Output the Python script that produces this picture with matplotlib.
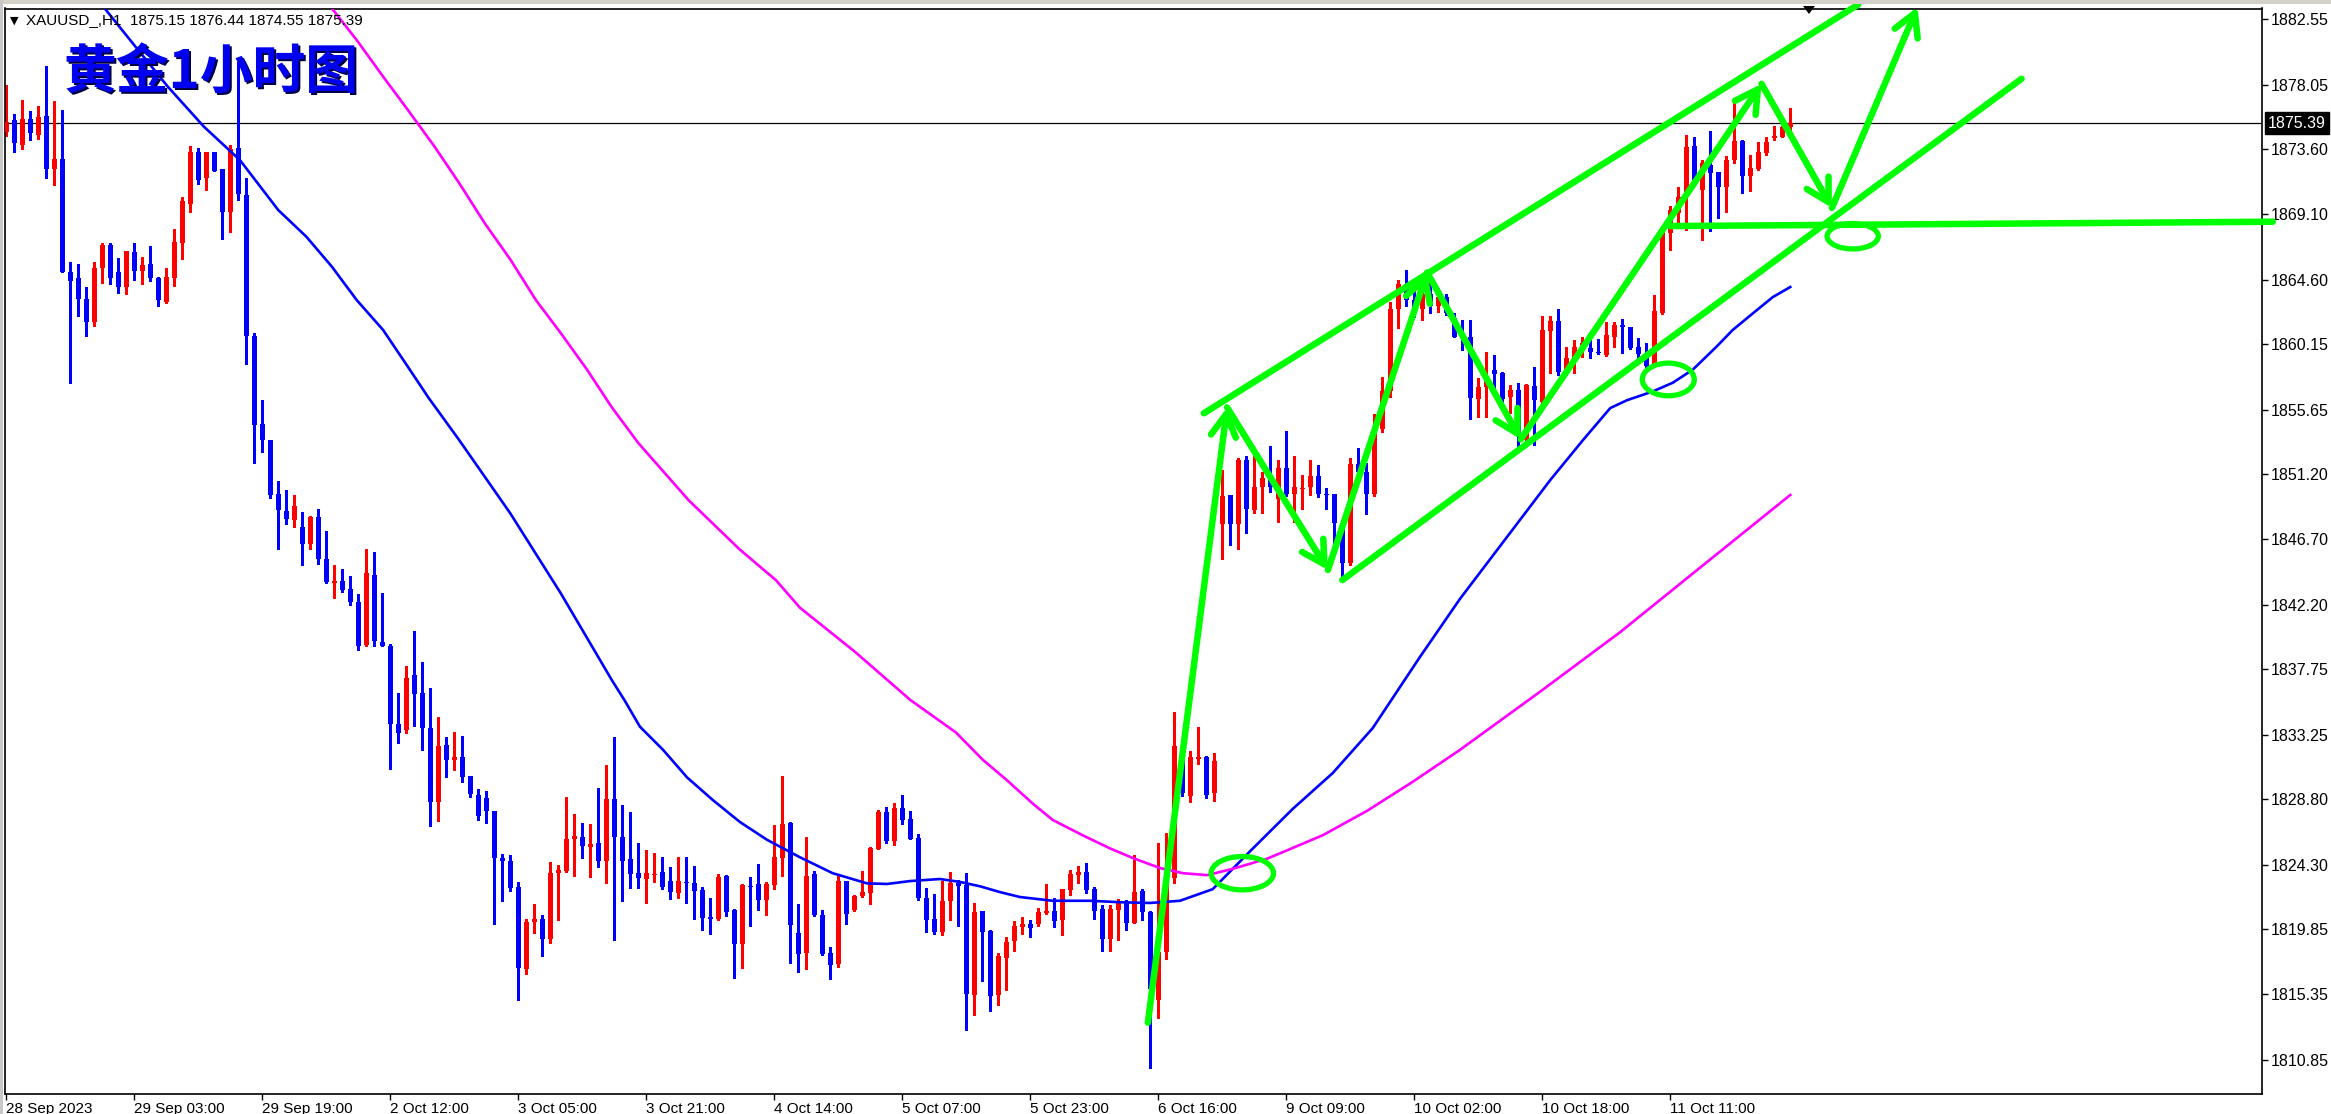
import matplotlib
matplotlib.use('Agg')
import matplotlib.pyplot as plt
from matplotlib import font_manager
from matplotlib.patches import Ellipse, Rectangle, Polygon
import matplotlib.transforms as mtrans

# ---------------- data ----------------
opens = [1874.8, 1875.6, 1873.9, 1875.7, 1874.6, 1875.9, 1872.2, 1872.9, 1865.1, 1864.7,
         1863.3, 1861.7, 1865.4, 1867.0, 1865.1, 1864.1, 1866.5, 1865.2, 1865.7, 1864.7,
         1863.1, 1864.75, 1867.1, 1869.85, 1873.4, 1871.6, 1873.4, 1872.2, 1869.3, 1873.7,
         1870.45, 1860.7, 1854.67, 1853.53, 1849.84, 1848.67, 1848.07, 1847.56, 1846.36, 1848.24,
         1845.33, 1843.73, 1843.84, 1843.3, 1842.38, 1839.41, 1844.24, 1839.64, 1839.36, 1834.01,
         1833.56, 1837.33, 1836.13, 1833.7, 1828.64, 1832.53, 1831.5, 1831.7, 1830.38, 1829.1,
         1828.87, 1827.96, 1824.76, 1824.53, 1822.73, 1817.12, 1820.36, 1820.55, 1819.19, 1823.72,
         1823.86, 1826.06, 1826.2, 1825.53, 1825.78, 1824.57, 1828.82, 1826.22, 1824.68, 1823.72,
         1823.33, 1823.6, 1823.79, 1823.17, 1822.34, 1823.1, 1823.03, 1822.55, 1820.68, 1820.55,
         1823.51, 1821.17, 1818.82, 1822.82, 1822.96, 1821.86, 1822.89, 1824.75, 1827.16, 1819.58,
         1818.2, 1823.65, 1820.82, 1818.2, 1817.46, 1823.16, 1821.16, 1822.13, 1822.33, 1825.37,
         1827.92, 1825.92, 1828.19, 1827.43, 1826.12, 1821.99, 1820.54, 1819.65, 1821.78, 1823.02,
         1822.89, 1815.3, 1821.09, 1819.71, 1815.3, 1817.85, 1819.03, 1819.99, 1820.2, 1820.2,
         1820.96, 1821.09, 1820.47, 1822.54, 1823.57, 1823.78, 1822.61, 1821.23, 1819.16, 1821.16,
         1821.64, 1820.27, 1822.47, 1821.02, 1814.95, 1818.3, 1823.4, 1832.3, 1829.0, 1831.6,
         1831.7, 1829.2, 1847.78, 1849.75, 1847.78, 1852.15, 1848.71, 1850.31, 1850.92, 1849.5,
         1851.6, 1849.84, 1850.15, 1850.31, 1851.07, 1849.84, 1849.84, 1847.84, 1845.07, 1851.9,
         1851.38, 1849.84, 1854.31, 1856.9, 1862.6, 1864.3, 1863.2, 1862.6, 1863.6, 1862.8,
         1863.44, 1861.94, 1860.7, 1860.64, 1856.36, 1857.24, 1858.38, 1858.2, 1856.5, 1857.0,
         1853.56, 1857.28, 1856.2, 1861.09, 1861.78, 1858.27, 1859.12, 1859.88, 1859.88, 1859.6,
         1859.42, 1860.68, 1861.49, 1861.32, 1859.95, 1859.53, 1858.66, 1862.29, 1867.8, 1869.18,
         1870.33, 1873.82, 1870.79, 1872.51, 1872.05, 1870.97, 1872.86, 1874.17, 1871.75, 1872.21,
         1873.36, 1874.35, 1874.46, 1875.15]
highs = [1878.0, 1876.0, 1877.0, 1876.2, 1876.6, 1879.3, 1876.9, 1876.3, 1865.8, 1865.7,
         1864.1, 1865.8, 1867.1, 1867.1, 1866.1, 1866.6, 1867.1, 1866.2, 1866.9, 1864.8,
         1865.4, 1868.1, 1870.3, 1873.8, 1873.7, 1873.4, 1873.4, 1872.2, 1873.9, 1879.6,
         1871.6, 1860.9, 1856.33, 1853.53, 1850.73, 1850.1, 1849.76, 1848.58, 1848.33, 1848.81,
         1847.27, 1844.93, 1844.67, 1844.18, 1842.93, 1846.04, 1845.84, 1843.01, 1839.47, 1836.13,
         1837.98, 1840.38, 1838.24, 1836.47, 1834.5, 1833.1, 1833.44, 1833.16, 1830.38, 1829.5,
         1829.36, 1827.98, 1825.01, 1824.96, 1823.07, 1820.55, 1821.58, 1820.82, 1824.47, 1824.27,
         1828.96, 1827.78, 1827.16, 1827.1, 1829.58, 1831.16, 1833.09, 1828.4, 1827.92, 1825.78,
         1825.3, 1825.1, 1824.82, 1824.13, 1824.82, 1824.82, 1824.2, 1822.75, 1822.0, 1823.65,
         1823.55, 1821.24, 1822.96, 1823.44, 1824.34, 1823.1, 1827.03, 1830.4, 1827.23, 1821.58,
         1826.2, 1823.86, 1821.16, 1818.61, 1823.57, 1823.16, 1822.2, 1823.85, 1825.5, 1828.05,
         1828.26, 1828.54, 1829.09, 1827.99, 1826.4, 1822.68, 1822.26, 1823.16, 1823.78, 1823.23,
         1823.71, 1821.64, 1821.09, 1819.78, 1818.2, 1819.3, 1820.4, 1820.68, 1820.47, 1821.3,
         1822.95, 1821.99, 1822.61, 1823.92, 1824.19, 1824.4, 1822.75, 1821.51, 1821.51, 1821.92,
         1821.85, 1824.95, 1822.61, 1821.1, 1825.8, 1826.5, 1834.8, 1832.6, 1832.1, 1833.8,
         1831.8, 1832.0, 1851.5, 1849.75, 1852.3, 1852.46, 1852.61, 1851.38, 1853.14, 1852.15,
         1854.21, 1852.46, 1851.17, 1852.15, 1851.84, 1850.24, 1849.84, 1847.84, 1852.3, 1853.0,
         1851.97, 1855.38, 1857.9, 1863.1, 1864.6, 1865.3, 1864.1, 1864.0, 1864.4, 1864.0,
         1863.6, 1862.3, 1861.83, 1861.83, 1857.81, 1859.65, 1859.42, 1858.27, 1857.35, 1857.46,
         1857.42, 1858.61, 1862.11, 1862.11, 1862.56, 1859.99, 1860.45, 1860.64, 1860.45, 1860.5,
         1861.72, 1861.72, 1861.88, 1861.37, 1860.57, 1860.22, 1863.55, 1867.92, 1869.69, 1870.97,
         1874.58, 1874.46, 1872.86, 1874.88, 1872.05, 1873.13, 1877.1, 1874.24, 1873.2, 1874.12,
         1874.46, 1875.2, 1875.2, 1876.44]
lows = [1874.5, 1873.4, 1873.6, 1874.2, 1874.3, 1871.6, 1871.1, 1865.1, 1857.5, 1862.1,
        1860.7, 1861.4, 1864.4, 1864.3, 1863.7, 1863.6, 1864.6, 1864.3, 1864.5, 1862.8,
        1863.0, 1864.2, 1866.0, 1869.3, 1871.2, 1870.8, 1872.1, 1867.4, 1867.9, 1870.1,
        1858.8, 1852.0, 1852.73, 1849.53, 1846.07, 1847.78, 1847.53, 1844.96, 1846.01, 1844.98,
        1843.73, 1842.7, 1843.07, 1842.21, 1839.1, 1839.33, 1839.33, 1839.36, 1830.9, 1832.7,
        1833.33, 1833.87, 1832.16, 1826.98, 1827.33, 1830.3, 1830.78, 1830.01, 1828.98, 1827.36,
        1827.18, 1820.21, 1821.81, 1822.5, 1814.96, 1816.76, 1819.6, 1818.0, 1818.92, 1820.48,
        1823.79, 1823.51, 1824.75, 1823.46, 1824.15, 1823.05, 1819.12, 1821.79, 1822.71, 1822.71,
        1821.67, 1823.12, 1822.64, 1821.93, 1822.02, 1821.65, 1820.55, 1819.79, 1819.51, 1820.5,
        1820.75, 1816.48, 1817.17, 1820.06, 1821.17, 1820.82, 1822.62, 1823.51, 1817.51, 1816.89,
        1817.1, 1820.75, 1818.06, 1816.41, 1817.26, 1820.2, 1821.09, 1822.06, 1821.58, 1825.37,
        1825.78, 1825.64, 1827.09, 1826.06, 1821.85, 1819.65, 1819.51, 1819.44, 1820.47, 1820.06,
        1812.89, 1813.93, 1816.27, 1814.2, 1814.62, 1815.65, 1818.34, 1819.51, 1819.3, 1820.06,
        1820.89, 1819.99, 1819.44, 1822.2, 1823.02, 1822.33, 1820.54, 1818.34, 1818.34, 1819.09,
        1819.78, 1820.27, 1820.47, 1810.3, 1813.7, 1817.8, 1823.0, 1829.0, 1828.6, 1831.2,
        1828.9, 1828.7, 1845.38, 1846.3, 1846.06, 1847.17, 1848.52, 1848.52, 1850.0, 1847.9,
        1849.69, 1847.9, 1848.77, 1849.75, 1849.63, 1848.83, 1846.15, 1844.15, 1844.92, 1851.0,
        1848.46, 1849.69, 1854.1, 1856.5, 1861.3, 1862.8, 1862.0, 1861.8, 1862.3, 1862.4,
        1862.2, 1860.64, 1859.76, 1854.98, 1855.12, 1855.17, 1857.0, 1855.86, 1855.4, 1853.1,
        1853.44, 1853.21, 1856.09, 1858.2, 1858.04, 1858.04, 1858.2, 1859.3, 1859.19, 1859.49,
        1859.35, 1859.99, 1859.58, 1859.81, 1859.19, 1858.61, 1858.6, 1862.24, 1866.65, 1868.26,
        1868.03, 1871.25, 1867.34, 1867.99, 1868.84, 1869.3, 1872.67, 1870.61, 1870.74, 1872.17,
        1873.2, 1874.24, 1874.42, 1874.55]
closes = [1875.5, 1874.0, 1875.7, 1874.7, 1875.8, 1872.2, 1872.9, 1865.1, 1864.5, 1863.3,
          1861.7, 1865.4, 1867.0, 1864.7, 1864.1, 1866.6, 1865.2, 1865.6, 1864.7, 1863.2,
          1864.8, 1867.2, 1870.0, 1873.4, 1871.5, 1873.4, 1872.1, 1869.3, 1873.6, 1870.5,
          1860.7, 1854.56, 1853.53, 1849.76, 1848.7, 1848.13, 1849.01, 1846.36, 1848.24, 1845.33,
          1843.78, 1843.81, 1843.24, 1842.41, 1839.38, 1844.38, 1839.67, 1839.36, 1834.01, 1833.36,
          1837.16, 1836.07, 1833.7, 1828.64, 1832.47, 1831.5, 1831.7, 1830.36, 1829.13, 1827.67,
          1827.96, 1824.78, 1824.56, 1822.7, 1817.19, 1820.36, 1820.55, 1819.19, 1823.72, 1823.92,
          1826.06, 1826.27, 1825.6, 1825.72, 1824.57, 1828.82, 1826.22, 1824.57, 1823.67, 1823.4,
          1823.72, 1823.67, 1822.75, 1822.43, 1823.17, 1823.03, 1822.48, 1820.62, 1820.55, 1823.44,
          1821.03, 1818.82, 1822.89, 1822.75, 1821.86, 1822.96, 1824.82, 1827.1, 1820.13, 1818.13,
          1823.51, 1820.82, 1818.13, 1817.39, 1823.16, 1820.89, 1822.13, 1822.4, 1825.44, 1827.92,
          1825.92, 1828.19, 1827.36, 1826.06, 1821.99, 1820.47, 1819.65, 1821.78, 1823.02, 1822.82,
          1815.37, 1821.02, 1819.65, 1815.24, 1817.99, 1818.96, 1820.06, 1820.2, 1819.92, 1821.02,
          1821.09, 1820.4, 1822.61, 1823.64, 1823.78, 1822.54, 1821.09, 1819.16, 1821.23, 1821.64,
          1820.27, 1822.4, 1821.02, 1815.69, 1818.3, 1823.4, 1832.5, 1829.2, 1831.7, 1831.7,
          1829.1, 1831.4, 1849.69, 1847.78, 1852.21, 1848.83, 1850.31, 1850.92, 1850.31, 1851.6,
          1849.84, 1850.31, 1850.24, 1851.07, 1849.84, 1849.75, 1847.84, 1845.07, 1851.9, 1851.38,
          1849.84, 1854.31, 1856.92, 1862.6, 1864.3, 1863.2, 1862.6, 1863.6, 1862.8, 1863.4,
          1862.29, 1860.64, 1860.6, 1856.43, 1857.24, 1857.69, 1858.11, 1856.36, 1857.0, 1854.02,
          1857.35, 1856.32, 1861.14, 1861.78, 1858.27, 1859.19, 1859.99, 1860.22, 1859.65, 1859.55,
          1860.8, 1861.49, 1861.32, 1859.88, 1859.49, 1858.66, 1862.47, 1867.92, 1869.41, 1870.33,
          1873.78, 1871.48, 1872.63, 1871.98, 1870.97, 1872.86, 1874.17, 1871.75, 1872.28, 1873.43,
          1874.12, 1874.51, 1875.11, 1875.39]

time_labels = ['28 Sep 2023', '29 Sep 03:00', '29 Sep 19:00', '2 Oct 12:00', '3 Oct 05:00',
               '3 Oct 21:00', '4 Oct 14:00', '5 Oct 07:00', '5 Oct 23:00', '6 Oct 16:00',
               '9 Oct 09:00', '10 Oct 02:00', '10 Oct 18:00', '11 Oct 11:00']
time_label_bars = [0, 16, 32, 48, 64, 80, 96, 112, 128, 144, 160, 176, 192, 208]

price_labels = ['1882.55', '1878.05', '1873.60', '1869.10', '1864.60', '1860.15', '1855.65',
                '1851.20', '1846.70', '1842.20', '1837.75', '1833.25', '1828.80', '1824.30',
                '1819.85', '1815.35', '1810.85']

ma_blue_bar = [12.3, 15.8, 20.2, 24.7, 29.2, 34.0, 37.5, 40.7, 43.8, 47.1, 50.2, 52.8, 56.6, 63.0,
               69.3, 75.7, 77.3, 79.2, 82.1, 85.1, 88.3, 91.7, 95.1, 99.2, 103.3, 107.6, 110.1,
               113.0, 116.7, 119.2, 121.7, 124.2, 126.7, 130.8, 135.5, 139.2, 143.0, 146.7, 150.8,
               155.5, 160.8, 165.8, 170.8, 176.7, 181.7, 193.0, 197.1, 200.5, 202.6, 205.8, 208.3,
               210.8, 213.8, 215.8, 218.8, 220.8, 223.0]
ma_blue_val = [1883.3, 1880.9, 1877.9, 1875.15, 1872.85, 1869.4, 1867.57, 1865.5, 1863.2, 1861.14,
               1858.6, 1856.45, 1853.56, 1848.5, 1843.0, 1837.0, 1835.6, 1833.8, 1832.2, 1830.3,
               1828.75, 1827.23, 1826.0, 1824.8, 1823.7, 1823.0, 1822.96, 1823.16, 1823.3, 1823.1,
               1822.8, 1822.4, 1822.06, 1821.8, 1821.8, 1821.7, 1821.65, 1821.8, 1822.6, 1825.23,
               1828.13, 1830.6, 1833.7, 1838.6, 1842.6, 1850.8, 1853.56, 1855.76, 1856.3, 1856.9,
               1857.5, 1858.4, 1860.0, 1861.14, 1862.5, 1863.4, 1864.1]

ma_magenta_bar = [40.7, 43.8, 47.1, 50.2, 53.5, 56.6, 59.8, 63.0, 66.2, 69.3, 72.6, 75.7, 79.0,
                  85.3, 91.7, 96.2, 99.2, 106.1, 113.0, 118.7, 122.1, 125.1, 128.3, 130.8, 134.6,
                  138.0, 140.8, 144.2, 147.1, 150.1, 153.3, 157.6, 160.5, 164.6, 170.1, 175.8,
                  181.7, 191.7, 201.7, 211.7, 223.0]
ma_magenta_val = [1883.3, 1881.12, 1878.6, 1876.3, 1873.8, 1871.27, 1868.5, 1866.0, 1863.2,
                  1860.93, 1858.4, 1855.8, 1853.35, 1849.4, 1846.0, 1843.9, 1842.0, 1838.95,
                  1835.64, 1833.4, 1831.5, 1830.1, 1828.5, 1827.37, 1826.3, 1825.4, 1824.75,
                  1824.06, 1823.7, 1823.57, 1824.0, 1824.7, 1825.37, 1826.33, 1828.0, 1830.0,
                  1832.2, 1836.2, 1840.3, 1844.75, 1849.77]

last_price = 1875.39
header_text = 'XAUUSD_,H1  1875.15 1876.44 1874.55 1875.39'
title_text = '黄金1小时图'

# hand-drawn green annotations (bar index, price)
arrow_segments = [((142.7, 1813.4), (152.6, 1855.8)),
                  ((152.6, 1855.8), (165.2, 1844.6)),
                  ((165.2, 1844.6), (177.6, 1865.1)),
                  ((177.6, 1865.1), (189.3, 1853.6)),
                  ((189.3, 1853.6), (219.4, 1878.1)),
                  ((219.4, 1878.1), (228.2, 1869.55)),
                  ((228.2, 1869.55), (238.9, 1883.4))]
plain_segments = [((149.7, 1855.4), (231.5, 1883.57)),
                  ((167.0, 1843.9), (251.9, 1878.45)),
                  ((208.0, 1868.3), (283.3, 1868.6))]
ellipses = [((154.5, 1823.7), 7.8, 2.3),
            ((207.75, 1857.73), 6.5, 2.25),
            ((230.8, 1867.6), 6.4, 1.75)]

# ---------------- figure ----------------
W, H = 2331, 1114
names = {f.name for f in font_manager.fontManager.ttflist}
narrow = 'Liberation Sans Narrow' if 'Liberation Sans Narrow' in names else 'Liberation Sans'

fig = plt.figure(figsize=(W / 100, H / 100), dpi=100)
fig.patch.set_facecolor('white')
ax_l, ax_r, ax_t, ax_b = 5, 2262, 8.5, 1094.3
ax = fig.add_axes([ax_l / W, 1 - ax_b / H, (ax_r - ax_l) / W, (ax_b - ax_t) / H])
ax.set_facecolor('white')

n = len(opens)
idx = list(range(n))
x_left = (ax_l - 6.3) / 8.0
x_right = (ax_r - 6.3) / 8.0
ax.set_xlim(x_left, x_right)
p0 = 1883.88
ax.set_ylim(p0 - ax_b / 14.51, p0 - ax_t / 14.51)

RED, BLUE = '#FF0000', '#0000FF'
cols = [RED if c >= o else BLUE for o, c in zip(opens, closes)]
ax.vlines(idx, lows, highs, colors=cols, linewidth=0.75, antialiased=False, zorder=2)
bottoms = [min(o, c) for o, c in zip(opens, closes)]
heights = [max(abs(c - o), 0.08) for o, c in zip(opens, closes)]
ax.bar(idx, heights, bottom=bottoms, width=0.62, color=cols, linewidth=0,
       antialiased=False, zorder=3)

ax.plot(ma_blue_bar, ma_blue_val, color='#0000FF', lw=1.9, zorder=4)
ax.plot(ma_magenta_bar, ma_magenta_val, color='#FF00FF', lw=1.9, zorder=4)

ax.axhline(last_price, color='black', lw=0.9, zorder=1)

GREEN = '#00FF00'
for (a, b) in plain_segments:
    ax.plot([a[0], b[0]], [a[1], b[1]], color=GREEN, lw=4.7, solid_capstyle='round',
            zorder=6, clip_on=False)
for (a, b) in arrow_segments:
    ax.annotate('', xy=b, xytext=a, zorder=6, annotation_clip=False,
                arrowprops=dict(arrowstyle='->,head_length=0.8,head_width=0.45',
                                color=GREEN, lw=4.7, shrinkA=0, shrinkB=0,
                                mutation_scale=20, capstyle='round', joinstyle='round'))
for (c, w, h) in ellipses:
    ax.add_patch(Ellipse(c, w, h, fill=False, ec=GREEN, lw=3.8, zorder=6))

# axes styling
for s in ax.spines.values():
    s.set_color('black')
    s.set_linewidth(1.2)
ax.yaxis.tick_right()
ax.set_yticks([float(v) for v in price_labels])
ax.set_yticklabels(price_labels, fontfamily=narrow, fontsize=11.5)
ax.tick_params(axis='y', direction='out', length=4, width=1, pad=2.5, colors='black')
ax.set_xticks(time_label_bars)
ax.set_xticklabels(time_labels, fontfamily=narrow, fontsize=11, ha='left')
ax.tick_params(axis='x', direction='out', length=4, width=1, pad=1.5, colors='black')

# current price box
tr = mtrans.blended_transform_factory(ax.transAxes, ax.transData)
ax.text(1 + 6 / (ax_r - ax_l), last_price, '1875.39', transform=tr, ha='left', va='center',
        color='white', fontsize=11.5, fontfamily=narrow, zorder=10, clip_on=False,
        bbox=dict(boxstyle='square,pad=0.2', fc='black', ec='black'))

# header + title
fig.text(10 / W, 1 - 20.5 / H, '▼', fontsize=8, family=['DejaVu Sans'], va='center', ha='left')
fig.text(26 / W, 1 - 20.5 / H, header_text, fontsize=11, family=[narrow, 'DejaVu Sans'],
         va='center', ha='left')
for dx, dy, col in [(2.0, -2.0, '#000040'), (0, 0, '#0000F0')]:
    fig.text((64 + dx) / W, 1 - (72 - dy) / H, title_text, fontsize=38, fontweight='bold',
             family=['Noto Sans CJK SC', 'DejaVu Sans'], color=col, va='center', ha='left',
             zorder=20)

# window chrome bits
fig.patches.append(Rectangle((0, 1 - 4 / H), 1, 4 / H, transform=fig.transFigure,
                             fc='#d4d0c8', ec='none', zorder=0))
fig.patches.append(Rectangle((0, 0), 3 / W, 1, transform=fig.transFigure,
                             fc='#c8c8c8', ec='none', zorder=0))
tri_x = 1809
fig.patches.append(Polygon([((tri_x - 6) / W, 1 - 6 / H), ((tri_x + 6) / W, 1 - 6 / H),
                            (tri_x / W, 1 - 14 / H)], closed=True, transform=fig.transFigure,
                           fc='black', ec='none', zorder=30))

fig.savefig('out.png', dpi=100, facecolor='white')
